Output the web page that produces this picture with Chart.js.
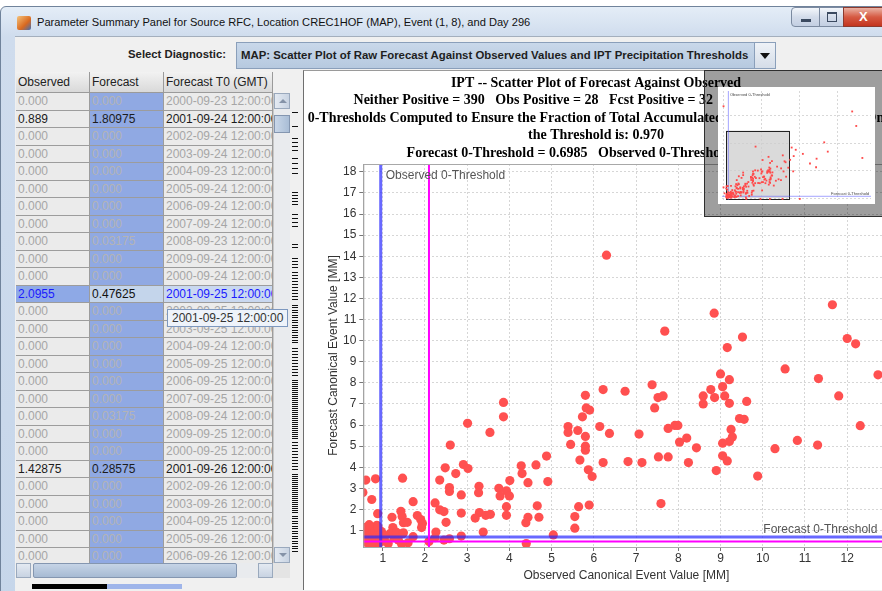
<!DOCTYPE html>
<html>
<head>
<meta charset="utf-8">
<script src="https://cdn.jsdelivr.net/npm/chart.js@4.4.1/dist/chart.umd.min.js"></script>
<style>
body{margin:0;width:882px;height:591px;overflow:hidden;background:#fff;position:relative;font-family:"Liberation Sans",Arial,sans-serif;font-size:12px}
.a{position:absolute}
#win{left:0;top:6px;width:900px;height:600px;background:linear-gradient(#e4edf7,#cfdced 30px,#c6d6ea);border:1px solid #70839b;border-top-left-radius:6px}
#wtitle{left:37px;top:16px;font-size:11.1px;color:#111;white-space:nowrap}
#icon{left:17px;top:16px;width:14px;height:14px;background:linear-gradient(135deg,#f4c27a,#d9691f 60%,#3d6fb6);border-radius:2px}
.wb{top:7px;height:20px;border:1px solid #7b8aa0;background:linear-gradient(#f4f7fb,#d3dcea 50%,#c3cfe2);box-sizing:border-box}
#content{left:15px;top:36px;width:880px;height:560px;background:#f0f0f0;border-top:1px solid #a4afbd}
#selLbl{left:90px;top:48px;width:136px;text-align:right;font-weight:bold;font-size:11.3px;color:#222}
#combo{left:236px;top:42px;width:540px;height:27px;box-sizing:border-box;border:1px solid #8a9fba;background:linear-gradient(#c9d8ea,#b6c9df);}
#comboTxt{left:4px;top:6px;font-weight:bold;font-size:11.4px;color:#1e1e1e;white-space:nowrap}
#comboBtn{right:0;top:0;width:20px;height:25px;border-left:1px solid #8a9fba;background:linear-gradient(#eef2f7,#d5dde8)}
#tbl{left:16px;top:72px;width:257px;height:491px;overflow:hidden;background:#ebebeb}
.cell{position:absolute;box-sizing:border-box;border-right:1px solid #9c9c9c;border-bottom:1px solid #9c9c9c;padding-left:2px;white-space:nowrap;overflow:hidden;line-height:17px}
.hdr{background:linear-gradient(#f2f2f2,#d9d9d9);color:#222;line-height:20px;border-color:#9a9a9a}
#chartPanel{left:303px;top:70px;width:579px;height:519px;background:#fff;border-left:1px solid #6f6f6f;border-top:1px solid #9a9a9a;overflow:hidden}
#inset{left:704px;top:70px;width:180px;height:147px;box-sizing:border-box;background:rgba(0,0,0,0.38);border:1px solid #2f2f2f}
</style>
</head>
<body>
<div id="win" class="a"></div>
<div id="icon" class="a"></div>
<div id="wtitle" class="a">Parameter Summary Panel for Source RFC, Location CREC1HOF (MAP), Event (1, 8), and Day 296</div>
<div class="a wb" style="left:791px;width:29px;border-radius:4px 0 0 4px"><div class="a" style="left:9px;top:11px;width:10px;height:3px;background:#3b4a60"></div></div>
<div class="a wb" style="left:819px;width:25px"><div class="a" style="left:7px;top:4px;width:8px;height:7px;border:1px solid #3b4a60;border-top-width:2px"></div></div>
<div class="a wb" style="left:843px;width:40px;border-color:#8c3a2e;background:linear-gradient(#eab2a4,#d65a43 50%,#c3351f)"><div class="a" style="left:15px;top:1px;color:#fff;font-weight:bold;font-size:13px">X</div></div>
<div id="content" class="a"></div>
<div id="selLbl" class="a">Select Diagnostic:</div>
<div id="combo" class="a"><div id="comboTxt" class="a">MAP: Scatter Plot of Raw Forecast Against Observed Values and IPT Precipitation Thresholds</div>
<div id="comboBtn" class="a"><div class="a" style="left:5px;top:10px;width:0;height:0;border-left:5px solid transparent;border-right:5px solid transparent;border-top:6px solid #111"></div></div></div>
<div id="tbl" class="a"></div>
<div id="vscroll" class="a" style="left:273px;top:93px;width:17px;height:470px;background:#e9ebee;border-left:1px solid #c8c8c8;box-sizing:border-box">
  <div class="a" style="left:0;top:0;width:16px;height:16px;background:linear-gradient(90deg,#e4eaf2,#c8d3e2);border:1px solid #9aa9bd;box-sizing:border-box"><div class="a" style="left:4px;top:5px;border-left:4px solid transparent;border-right:4px solid transparent;border-bottom:4px solid #8593a8"></div></div>
  <div class="a" style="left:0;top:22px;width:16px;height:18px;background:linear-gradient(90deg,#c9d7e8,#a9bdd6);border:1px solid #8496b0;box-sizing:border-box"></div>
  <div class="a" style="left:0;top:454px;width:16px;height:16px;background:linear-gradient(90deg,#e4eaf2,#c8d3e2);border:1px solid #9aa9bd;box-sizing:border-box"><div class="a" style="left:4px;top:5px;border-left:4px solid transparent;border-right:4px solid transparent;border-top:4px solid #8593a8"></div></div>
</div>
<div id="hscroll" class="a" style="left:16px;top:563px;width:257px;height:15px;background:#e9ebee">
  <div class="a" style="left:0;top:0;width:15px;height:15px;background:linear-gradient(#e4eaf2,#c8d3e2);border:1px solid #9aa9bd;box-sizing:border-box"></div>
  <div class="a" style="left:17px;top:0;width:204px;height:15px;background:linear-gradient(#c6d4e6,#a6bad3);border:1px solid #8496b0;box-sizing:border-box;border-radius:2px"></div>
  <div class="a" style="left:242px;top:0;width:15px;height:15px;background:linear-gradient(#e4eaf2,#c8d3e2);border:1px solid #9aa9bd;box-sizing:border-box"></div>
</div>
<div class="a" style="left:273px;top:563px;width:17px;height:15px;background:#e4e4e4"></div>
<div class="a" style="left:32px;top:584px;width:75px;height:5px;background:#000"></div>
<div class="a" style="left:107px;top:584px;width:75px;height:5px;background:#9fb5ea"></div>
<div id="strip" class="a" style="left:0;top:0"></div>
<div id="chartPanel" class="a"><canvas id="main" width="590" height="518" style="position:absolute;left:0;top:0"></canvas></div>
<div id="inset" class="a"></div>
<canvas id="mini" class="a" width="157" height="117" style="left:718px;top:87px;background:#fff"></canvas>
<div id="tip" class="a" style="left:167px;top:309px;width:121px;height:18px;box-sizing:border-box;background:#eef3fa;border:1px solid #7d98bf;color:#333;padding-left:4px;line-height:16px">2001-09-25 12:00:00</div>
<script>
// table rows shown in the left panel
const tblObserved = ['0.000','0.889','0.000','0.000','0.000','0.000','0.000','0.000','0.000','0.000','0.000','2.0955','0.000','0.000','0.000','0.000','0.000','0.000','0.000','0.000','0.000','1.42875','0.000','0.000','0.000','0.000','0.000'];
const tblForecast = ['0.000','1.80975','0.000','0.000','0.000','0.000','0.000','0.000','0.03175','0.000','0.000','0.47625','0.000','0.000','0.000','0.000','0.000','0.000','0.03175','0.000','0.000','0.28575','0.000','0.000','0.000','0.000','0.000'];
const tblT0 = ['2000-09-23','2001-09-24','2002-09-24','2003-09-24','2004-09-23','2005-09-24','2006-09-24','2007-09-24','2008-09-23','2009-09-24','2000-09-24','2001-09-25','2002-09-25','2003-09-25','2004-09-24','2005-09-25','2006-09-25','2007-09-25','2008-09-24','2009-09-25','2000-09-25','2001-09-26','2002-09-26','2003-09-26','2004-09-25','2005-09-26','2006-09-26'];
const tblHeaders = ['Observed', 'Forecast', 'Forecast T0 (GMT)'];
const selectedRow = 11;

// scatter: observed vs forecast canonical event values [MM], both positive
const obsValues = [
 6.30,11.65,8.85,7.68,9.52,12.00,12.20,9.16,10.53,9.00,11.32,9.21,12.73,6.22,6.74,7.38,8.77,9.05,7.52,7.64,
 8.59,8.86,9.10,7.44,8.59,9.21,9.62,6.14,6.37,7.76,7.92,7.99,7.07,9.45,9.56,9.25,9.28,9.21,9.05,8.03,
 8.20,8.43,7.53,7.76,9.05,9.16,6.22,6.81,7.14,8.24,8.90,9.88,10.29,10.82,11.30,11.80,12.31,7.59,
 5.80,5.82,5.90,5.73,5.39,5.39,5.62,5.80,5.45,5.80,5.67,5.80,5.87,5.96,5.64,5.89,5.55,5.55,
 4.88,4.91,4.63,4.28,4.30,4.44,4.01,4.66,4.70,4.44,4.39,4.40,5.04,3.86,3.86,3.54,3.01,3.75,3.78,3.93,
 4.00,3.93,3.93,3.28,3.27,3.29,3.19,3.44,3.55,3.38,2.91,3.02,2.73,2.60,2.58,2.58,2.48,2.35,2.24,2.35,
 2.45,2.50,2.86,2.86,2.26,2.86,2.45,2.58,2.24,2.0955,
 0.60,0.83,0.74,0.88,1.47,1.72,1.43,1.22,1.46,1.49,1.58,1.82,1.90,1.94,1.92,1.24,0.67,0.86,0.97,1.17,
 1.47,1.72,1.27,1.37,1.60,1.13,1.45,0.53,1.33,1.49,
 0.58,0.62,0.64,0.66,0.70,0.72,0.75,0.77,0.79,0.81,0.84,0.86,0.89,0.91,0.93,0.60,0.68,0.95,1.02,1.05,0.56,0.73
];
const fcstValues = [
 14.05,11.70,11.30,10.45,10.17,10.10,9.85,9.67,8.66,8.42,8.20,8.15,8.38,7.68,7.60,7.91,7.68,7.82,7.30,7.38,
 7.38,7.30,7.38,6.81,7.00,7.03,7.12,5.93,5.60,5.84,5.98,5.98,5.57,6.31,6.27,5.79,5.43,5.22,5.14,5.19,
 5.38,4.92,4.49,4.49,4.54,4.30,4.22,4.27,4.22,4.22,3.84,3.58,4.88,5.27,5.05,7.38,5.97,2.28,
 7.41,6.81,6.71,6.39,5.93,5.65,5.74,5.46,5.08,5.00,4.34,4.81,3.88,3.56,2.13,2.21,1.66,1.11,
 4.53,3.32,4.11,4.07,3.70,3.27,3.37,2.17,1.63,1.63,1.37,0.38,0.79,7.07,6.39,5.65,6.08,3.00,2.64,2.88,
 2.64,2.13,1.72,3.10,2.79,1.85,1.59,1.72,1.77,0.93,4.13,3.94,3.70,5.05,3.04,2.85,3.97,3.39,2.31,1.98,
 1.90,1.39,2.69,1.83,0.93,0.74,0.55,0.61,0.66,0.47625,
 3.39,3.45,2.47,1.80,3.48,2.37,1.91,1.63,1.66,1.37,1.39,1.71,1.52,1.33,1.14,1.14,1.22,1.25,0.95,0.85,
 0.85,0.71,0.66,0.55,0.42,0.38,0.35,2.80,0.91,0.89,
 0.45,0.98,0.70,0.40,0.55,0.85,1.05,0.35,0.62,0.95,0.48,0.75,1.15,0.40,0.60,1.15,1.28,0.85,0.50,0.72,0.62,0.30
];
// pairs outside the zoomed view, seen only in the overview
const outsideObs = [25.3,26.1,19.8,20.5,13.4,14.2,15.6,13.8,18.3,17.0,18.2,27.3,13.7,13.1,4.48,7.27,9.12,11.6,15.0,0.0,0.0,0.2];
const outsideFcst = [23.5,19.6,15.2,12.7,13.8,13.2,12.1,11.5,10.8,9.5,8.5,11.0,7.4,10.5,0.0,0.0,0.0,0.0,0.0,24.9,3.1,1.5];

const obsThreshold = 0.9525;
const fcstThreshold = 0.6985;
const selectedObs = 2.0955;
const selectedFcst = 0.47625;

const xTicks = [1,2,3,4,5,6,7,8,9,10,11,12];
const yTicks = [1,2,3,4,5,6,7,8,9,10,11,12,13,14,15,16,17,18];
const miniTicks = [0,7.5,15,22.5];
const xRange = [0.54, 13.0];
const yRange = [0.22, 18.37];
const miniRange = [-0.3, 29];

const titleLines = [
  'IPT -- Scatter Plot of Forecast Against Observed',
  'Neither Positive = 390   Obs Positive = 28   Fcst Positive = 32   Both Positive = 205',
  '0-Thresholds Computed to Ensure the Fraction of Total Accumulated Precipitation Above or On',
  'the Threshold is: 0.970',
  'Forecast 0-Threshold = 0.6985   Observed 0-Threshold = 0.9525'
];

// ---- table ----
const tbl = document.getElementById('tbl');
const colX = [0, 74, 148];
const colW = [74, 74, 109];
function addCell(x, y, w, h, txt, cls, style) {
  const d = document.createElement('div');
  d.className = 'cell ' + cls;
  d.style.left = x + 'px'; d.style.top = y + 'px';
  d.style.width = w + 'px'; d.style.height = h + 'px';
  Object.assign(d.style, style || {});
  d.textContent = txt;
  tbl.appendChild(d);
}
tblHeaders.forEach((h, c) => addCell(colX[c], 0, colW[c], 21, h, 'hdr'));
tblObserved.forEach((o, r) => {
  const y = 21 + r * 17.5;
  const live = parseFloat(o) > 0;
  const sel = r === selectedRow;
  const txt = sel ? '#1a1aff' : (live ? '#1c1c1c' : '#a6a6a6');
  addCell(colX[0], y, colW[0], 17.5, o, '', {background: sel ? '#8ea9e6' : '#ebebeb', color: txt});
  addCell(colX[1], y, colW[1], 17.5, tblForecast[r], '', {background: sel ? '#c4d5eb' : '#90a9e3', color: sel ? '#111' : (live ? '#1c1c1c' : '#b4b4b4')});
  addCell(colX[2], y, colW[2], 17.5, tblT0[r] + ' 12:00:00', '', {background: sel ? '#c9d8f0' : '#ebebeb', color: txt});
});

// ---- marks strip between table and plot ----
const stripSegments = [[112,4,4],[126,5,5],[138,14,4],[158,16,5],[192,14,3],[214,16,4],[244,6,3],[258,12,3],[272,30,3],[305,40,2.5],[348,30,3],[380,60,2],[442,30,3],[474,40,2],[516,36,2.5]];
const strip = document.getElementById('strip');
stripSegments.forEach(s => {
  const d = document.createElement('div');
  d.className = 'a';
  d.style.cssText = `left:292px;top:${s[0]}px;width:6px;height:${s[1]}px;background:repeating-linear-gradient(to bottom,#111 0,#111 1px,transparent 1px,transparent ${s[2]}px)`;
  strip.appendChild(d);
});

// ---- main scatter ----
Chart.defaults.font.family = '"Liberation Sans", Arial, sans-serif';
const pts = obsValues.map((o, i) => ({x: o, y: fcstValues[i]}))
  .concat(outsideObs.map((o, i) => ({x: o, y: outsideFcst[i]})));

const mainLabels = {
  id: 'mainLabels',
  afterDraw(chart) {
    const ctx = chart.ctx, xs = chart.scales.x, ys = chart.scales.y, ca = chart.chartArea;
    ctx.save();
    ctx.fillStyle = '#000';
    ctx.font = 'bold 14px "Liberation Serif", "Times New Roman", serif';
    ctx.textAlign = 'center';
    ctx.textBaseline = 'middle';
    titleLines.forEach((t, i) => ctx.fillText(t, 292, 12 + i * 17.5));
    ctx.font = '12px "Liberation Sans", Arial, sans-serif';
    ctx.fillStyle = '#555';
    ctx.textAlign = 'left';
    ctx.fillText('Observed 0-Threshold', xs.getPixelForValue(obsThreshold) + 5, ca.top + 12);
    ctx.textAlign = 'right';
    ctx.fillText('Forecast 0-Threshold', ca.right - 12, ys.getPixelForValue(fcstThreshold) - 7);
    ctx.strokeStyle = '#a8a8a8';
    ctx.lineWidth = 1;
    ctx.strokeRect(ca.left + 0.5, ca.top + 0.5, ca.right - ca.left, ca.bottom - ca.top);
    ctx.restore();
  }
};

function vLine(v, range) { return [{x: v, y: range[0]}, {x: v, y: range[1]}]; }
function hLine(v, range) { return [{x: range[0], y: v}, {x: range[1], y: v}]; }

new Chart(document.getElementById('main'), {
  type: 'scatter',
  data: {
    datasets: [
      {data: pts, pointRadius: 4.6, pointBackgroundColor: '#ff5050', pointBorderWidth: 0, clip: 0, order: 5},
      {type: 'line', data: vLine(obsThreshold, yRange), borderColor: 'rgba(40,40,255,0.7)', borderWidth: 3, pointRadius: 0, order: 3},
      {type: 'line', data: hLine(fcstThreshold, xRange), borderColor: 'rgba(40,40,255,0.7)', borderWidth: 3, pointRadius: 0, order: 3},
      {type: 'line', data: vLine(selectedObs, yRange), borderColor: '#ff00ff', borderWidth: 2, pointRadius: 0, order: 1},
      {type: 'line', data: hLine(selectedFcst, xRange), borderColor: '#ff00ff', borderWidth: 2, pointRadius: 0, order: 1}
    ]
  },
  options: {
    responsive: false,
    animation: false,
    devicePixelRatio: 1,
    layout: {padding: {top: 93, left: 16, right: 4, bottom: 0}},
    plugins: {legend: {display: false}, tooltip: {enabled: false}},
    scales: {
      x: {
        type: 'linear', min: xRange[0], max: xRange[1],
        afterBuildTicks: s => { s.ticks = xTicks.map(v => ({value: v})); },
        afterFit: s => { s.height = 42; },
        ticks: {color: '#333', font: {size: 12}, padding: 0},
        grid: {color: '#d6d6d6', tickColor: '#777', tickLength: 4},
        border: {display: true, color: '#999', dash: [2, 2]},
        title: {display: true, text: 'Observed Canonical Event Value [MM]', color: '#333', font: {size: 12}, padding: {top: 6, bottom: 6}}
      },
      y: {
        type: 'linear', min: yRange[0], max: yRange[1],
        afterBuildTicks: s => { s.ticks = yTicks.map(v => ({value: v})); },
        afterFit: s => { s.width = 43.3; },
        ticks: {color: '#333', font: {size: 12}, padding: 3},
        grid: {color: '#d6d6d6', tickColor: '#777', tickLength: 4},
        border: {display: true, color: '#999', dash: [2, 2]},
        title: {display: true, text: 'Forecast Canonical Event Value [MM]', color: '#333', font: {size: 12}, padding: {top: 6, bottom: 6}}
      }
    }
  },
  plugins: [mainLabels]
});

// ---- overview inset ----
const miniDecor = {
  id: 'miniDecor',
  beforeDatasetsDraw(chart) {
    const ctx = chart.ctx, xs = chart.scales.x, ys = chart.scales.y;
    const x0 = xs.getPixelForValue(xRange[0]), x1 = xs.getPixelForValue(xRange[1]);
    const y0 = ys.getPixelForValue(yRange[1]), y1 = ys.getPixelForValue(yRange[0]);
    ctx.save();
    ctx.fillStyle = 'rgba(205,205,205,0.75)';
    ctx.fillRect(x0, y0, x1 - x0, y1 - y0);
    ctx.strokeStyle = '#222';
    ctx.lineWidth = 1;
    ctx.strokeRect(Math.round(x0) + 0.5, Math.round(y0) + 0.5, Math.round(x1 - x0), Math.round(y1 - y0));
    ctx.restore();
  },
  afterDraw(chart) {
    const ctx = chart.ctx, ca = chart.chartArea;
    ctx.save();
    ctx.font = '4px "Liberation Sans", Arial, sans-serif';
    ctx.fillStyle = '#444';
    ctx.textAlign = 'left';
    ctx.fillText('Observed 0-Threshold', ca.left + 8, ca.top + 5);
    ctx.textAlign = 'right';
    ctx.fillText('Forecast 0-Threshold', ca.right - 2, ca.bottom - 5);
    ctx.restore();
  }
};

new Chart(document.getElementById('mini'), {
  type: 'scatter',
  data: {
    datasets: [
      {data: pts, pointStyle: 'rect', pointRadius: 1.3, pointBackgroundColor: '#ff4a4a', pointBorderWidth: 0, order: 2},
      {type: 'line', data: vLine(obsThreshold, miniRange), borderColor: 'rgba(90,90,255,0.55)', borderWidth: 1, pointRadius: 0, order: 3},
      {type: 'line', data: hLine(fcstThreshold, miniRange), borderColor: 'rgba(90,90,255,0.55)', borderWidth: 1, pointRadius: 0, order: 3}
    ]
  },
  options: {
    responsive: false,
    animation: false,
    devicePixelRatio: 1,
    layout: {padding: 0},
    plugins: {legend: {display: false}, tooltip: {enabled: false}},
    scales: {
      x: {type: 'linear', min: miniRange[0], max: miniRange[1],
          afterBuildTicks: s => { s.ticks = miniTicks.map(v => ({value: v})); },
          afterFit: s => { s.height = 0; },
          ticks: {display: false}, grid: {color: '#d8d8d8', drawTicks: false}, border: {display: false, dash: [2, 2]}},
      y: {type: 'linear', min: miniRange[0], max: miniRange[1],
          afterBuildTicks: s => { s.ticks = miniTicks.map(v => ({value: v})); },
          afterFit: s => { s.width = 0; },
          ticks: {display: false}, grid: {color: '#d8d8d8', drawTicks: false}, border: {display: false, dash: [2, 2]}}
    }
  },
  plugins: [miniDecor]
});
</script>
</body>
</html>
